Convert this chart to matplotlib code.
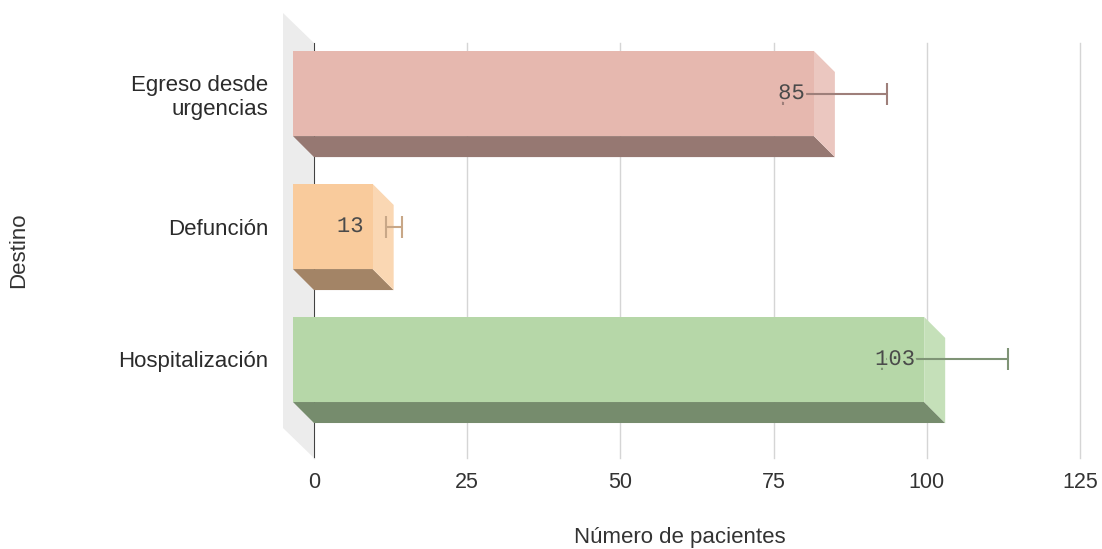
import matplotlib
matplotlib.use("Agg")
import matplotlib.pyplot as plt
from matplotlib.patches import Polygon
import matplotlib.patheffects as pe

# ---- data ----
categories = ["Egreso desde\nurgencias", "Defunción", "Hospitalización"]
values = [85, 13, 103]
err_low = [76.5, 11.7, 92.7]
err_high = [93.5, 14.3, 113.3]
x_ticks = [0, 25, 50, 75, 100, 125]
x_label = "Número de pacientes"
y_label = "Destino"

# ---- style ----
front_colors = ["#e6b8af", "#f9cb9c", "#b6d7a8"]
side_colors = ["#ebc7c0", "#fad7b3", "#c5e0b9"]
bottom_colors = ["#967872", "#a38466", "#768c6d"]
err_colors = ["#9e7f7a", "#c8a787", "#7f9476"]
DEPTH = 21          # px, bar extrusion
WALL_DX, WALL_DY = 31, 30
HALF = 0.32         # bar half height in category units

W, H = 1102, 549
fig = plt.figure(figsize=(W / 100, H / 100), dpi=100)
ax = fig.add_axes([314 / W, 1 - 458 / H, (1080 - 314) / W, (458 - 43) / H])
ax.set_xlim(0, 125)
ax.set_ylim(2.583, -0.538)
for s in ax.spines.values():
    s.set_visible(False)

def shift(x, y, dxp, dyp):
    X, Y = ax.transData.transform((x, y))
    return tuple(ax.transData.inverted().transform((X + dxp, Y + dyp)))

ypos = list(range(len(categories)))

# wall on the left
y0, y1 = ax.get_ylim()[1], ax.get_ylim()[0]
wall = [(0, y0), (0, y1), shift(0, y1, -WALL_DX, WALL_DY), shift(0, y0, -WALL_DX, WALL_DY)]
ax.add_patch(Polygon(wall, closed=True, facecolor="#ececec", edgecolor="none",
                     zorder=0.5, clip_on=False))

# grid & zero line
ax.set_xticks(x_ticks)
ax.xaxis.grid(True, color="#d5d5d5", lw=1)
for gl in ax.xaxis.get_gridlines():
    gl.set_clip_on(False)
ax.set_axisbelow(True)
ax.axvline(0, color="#333333", lw=1.3, zorder=1.5)

# bars
yfront = []
for i, (c, v) in enumerate(zip(ypos, values)):
    top, bot = c - HALF, c + HALF
    f = lambda x, y: shift(x, y, -DEPTH, DEPTH)
    bottom_face = [f(0, bot), f(v, bot), (v, bot), (0, bot)]
    side_face = [f(v, top), (v, top), (v, bot), f(v, bot)]
    front_face = [f(0, top), f(v, top), f(v, bot), f(0, bot)]
    ax.add_patch(Polygon(bottom_face, closed=True, facecolor=bottom_colors[i],
                         edgecolor="none", zorder=3, clip_on=False))
    ax.add_patch(Polygon(side_face, closed=True, facecolor=side_colors[i],
                         edgecolor="none", zorder=3, clip_on=False))
    ax.add_patch(Polygon(front_face, closed=True, facecolor=front_colors[i],
                         edgecolor="none", zorder=3.1, clip_on=False))
    yf = f(0, c)[1]
    yfront.append(yf)
    ax.errorbar(v, yf, xerr=[[v - err_low[i]], [err_high[i] - v]], fmt="none",
                ecolor=err_colors[i], elinewidth=1.5, capsize=8, capthick=1.5,
                zorder=4)
    ax.annotate(str(v), xy=(v, yf), xytext=(-(DEPTH + 9) * 0.72, 0),
                textcoords="offset points", ha="right", va="center",
                fontfamily="Liberation Mono", fontsize=16, color="#4a4a4a",
                zorder=5,
                path_effects=[pe.withStroke(linewidth=4, foreground=front_colors[i])])

# axis labels / ticks
ax.set_yticks(yfront)
ax.set_yticklabels(categories, fontfamily="Liberation Sans", fontsize=16, color="#2b2b2b")
ax.tick_params(axis="y", length=0, pad=33)
ax.set_xticklabels([str(t) for t in x_ticks], fontfamily="Liberation Sans",
                   fontsize=15.5, color="#333333")
ax.tick_params(axis="x", length=0, pad=10)

ax.set_xlabel(x_label, fontfamily="Liberation Sans", fontsize=16, color="#333333")
ax.xaxis.set_label_coords(0.478, -0.166)
ax.set_ylabel(y_label, fontfamily="Liberation Sans", fontsize=16, color="#333333")
ax.yaxis.set_label_coords(-0.372, 0.5)

fig.savefig("out.png", dpi=100)
